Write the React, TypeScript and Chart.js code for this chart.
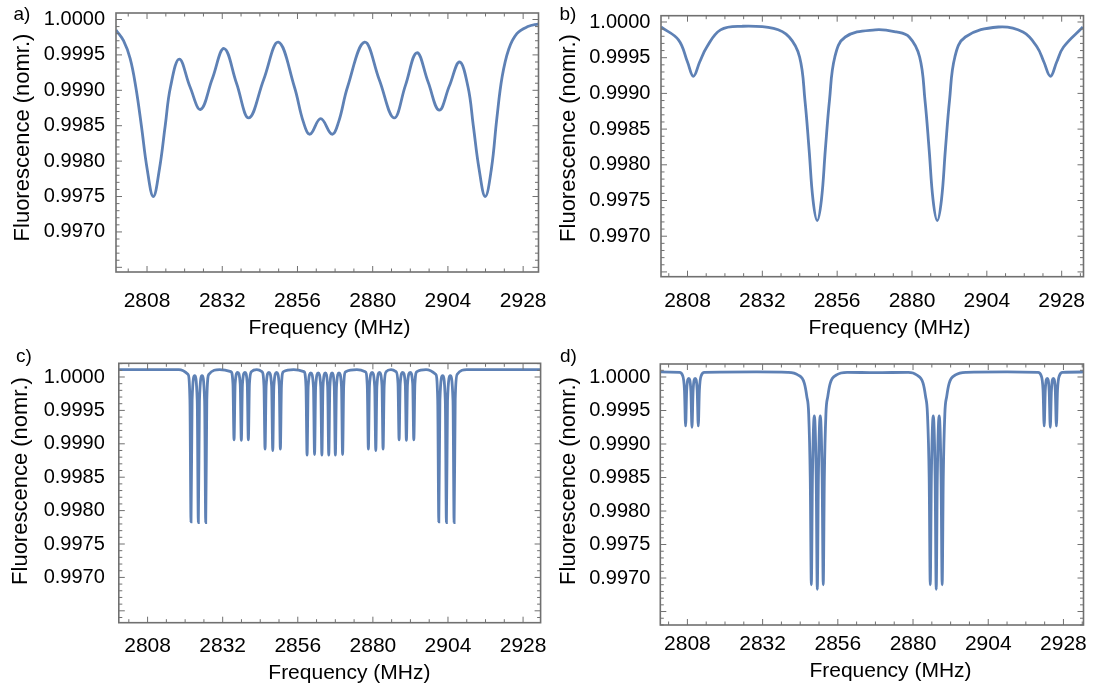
import React, { useEffect, useRef } from "react";
import { Chart, registerables } from "chart.js";

Chart.register(...registerables);

const FONT = '"Liberation Sans", Arial, Helvetica, sans-serif';
const LINE_COLOR = "#5e81b5";
const FRAME_COLOR = "#707070";

const X_TICKS = [2808, 2832, 2856, 2880, 2904, 2928];
const Y_TICKS = [1.0, 0.9995, 0.999, 0.9985, 0.998, 0.9975, 0.997];
const X_TITLE = "Frequency (MHz)";
const Y_TITLE = "Fluorescence (nomr.)";

// Panel a) – broad, overlapping resonances
const FREQ_A = [2798.1, 2800.5, 2802.6, 2804.4, 2806.2, 2808.0, 2810.0, 2812.0, 2813.8, 2815.5, 2818.3, 2821.7, 2825.1, 2828.8, 2832.6, 2836.55, 2840.5, 2845.2, 2849.9, 2855.0, 2857.9, 2860.0, 2863.4, 2867.0, 2869.1, 2872.0, 2877.4, 2882.1, 2886.8, 2890.45, 2894.1, 2897.65, 2901.2, 2904.45, 2907.7, 2910.4, 2912.1, 2913.9, 2915.9, 2917.9, 2919.6, 2921.3, 2923.4, 2926.0, 2929.5, 2933.0];
const FLUOR_A = [0.99985, 0.9997, 0.99945, 0.99905, 0.9985, 0.9979, 0.9975, 0.9979, 0.9985, 0.99905, 0.99944, 0.99905, 0.99873, 0.99916, 0.99959, 0.9991, 0.99861, 0.99915, 0.99968, 0.99905, 0.99855, 0.99838, 0.9986, 0.99838, 0.99855, 0.99905, 0.99968, 0.99915, 0.99861, 0.99907, 0.99953, 0.99912, 0.99872, 0.99906, 0.9994, 0.99905, 0.9985, 0.9979, 0.9975, 0.9979, 0.9986, 0.99919, 0.99958, 0.9998, 0.9999, 0.99994];

// Panel b) – four broad dips
const FREQ_B = [2799.5, 2805.1, 2808.0, 2809.9, 2811.9, 2814.2, 2818.6, 2825.4, 2835.6, 2840.6, 2843.95, 2845.65, 2847.0, 2848.25, 2849.6, 2850.95, 2852.2, 2853.55, 2855.25, 2858.6, 2868.2, 2875.0, 2879.1, 2882.45, 2884.15, 2885.5, 2886.75, 2888.1, 2889.45, 2890.7, 2892.05, 2893.75, 2897.1, 2907.7, 2915.6, 2920.1, 2922.3, 2924.4, 2926.4, 2928.6, 2934.8];
const FLUOR_B = [0.99993, 0.99975, 0.99944, 0.99924, 0.99944, 0.99965, 0.99989, 0.99994, 0.99991, 0.99979, 0.99951, 0.99891, 0.99821, 0.99751, 0.99722, 0.99751, 0.99821, 0.99891, 0.99951, 0.99979, 0.99989, 0.99986, 0.99979, 0.99951, 0.99891, 0.99821, 0.99751, 0.99722, 0.99751, 0.99821, 0.99891, 0.99951, 0.99979, 0.99993, 0.99986, 0.99965, 0.99944, 0.99924, 0.99944, 0.99965, 0.99993];

// Panel c) – narrow resolved lines
const FREQ_C = [
  2798.8, 2818.0, 2820.9, 2821.53, 2821.88, 2822.23, 2823.05, 2823.87, 2824.22, 2824.57, 2825.4, 2826.23, 2826.58, 2826.93, 2827.58, 2831.0,
  2834.63, 2835.28, 2835.63, 2835.98, 2836.8, 2837.61, 2837.96, 2838.31, 2839.08, 2839.85, 2840.2, 2840.55, 2841.2, 2842.9,
  2844.54, 2845.19, 2845.54, 2845.89, 2846.77, 2847.65, 2848.0, 2848.35, 2849.22, 2850.08, 2850.43, 2850.78, 2851.43, 2854.7,
  2857.97, 2858.62, 2858.97, 2859.32, 2860.17, 2861.01, 2861.36, 2861.71, 2862.53, 2863.35, 2863.7, 2864.05, 2864.8, 2865.55, 2865.9, 2866.25, 2866.96, 2867.66, 2868.01, 2868.36, 2869.17, 2869.97, 2870.32, 2870.67, 2871.32, 2874.9,
  2877.56, 2878.21, 2878.56, 2878.91, 2879.75, 2880.58, 2880.93, 2881.28, 2882.1, 2882.91, 2883.26, 2883.61, 2884.26, 2885.8,
  2887.38, 2888.03, 2888.38, 2888.73, 2889.55, 2890.36, 2890.71, 2891.06, 2891.9, 2892.73, 2893.08, 2893.43, 2894.08, 2897.0,
  2900.07, 2900.72, 2901.07, 2901.42, 2902.29, 2903.15, 2903.5, 2903.85, 2904.73, 2905.61, 2905.96, 2906.31, 2906.96, 2910.0, 2933.6,
];
const FLUOR_C = [
  1.00011, 1.00011, 1.00004, 0.99966, 0.99783, 0.99966, 1.00002, 0.99964, 0.99782, 0.99964, 1.00002, 0.99964, 0.99782, 0.99966, 1.00004, 1.00011,
  1.00008, 0.9999, 0.99906, 0.9999, 1.00007, 0.99989, 0.99905, 0.99989, 1.00007, 0.9999, 0.99906, 0.9999, 1.00008, 1.00011,
  1.00008, 0.99987, 0.99892, 0.99987, 1.00007, 0.99986, 0.9989, 0.99986, 1.00007, 0.99987, 0.99892, 0.99987, 1.00008, 1.00011,
  1.00008, 0.99986, 0.99883, 0.99986, 1.00006, 0.99985, 0.99884, 0.99985, 1.00006, 0.99985, 0.99883, 0.99985, 1.00006, 0.99985, 0.99883, 0.99985, 1.00006, 0.99985, 0.99883, 0.99985, 1.00006, 0.99986, 0.99884, 0.99986, 1.00008, 1.00011,
  1.00008, 0.99987, 0.99892, 0.99987, 1.00007, 0.99986, 0.9989, 0.99986, 1.00007, 0.99987, 0.99892, 0.99987, 1.00008, 1.00011,
  1.00008, 0.9999, 0.99906, 0.9999, 1.00007, 0.99989, 0.99905, 0.99989, 1.00007, 0.9999, 0.99906, 0.9999, 1.00008, 1.00011,
  1.00004, 0.99966, 0.99783, 0.99966, 1.00002, 0.99964, 0.99782, 0.99964, 1.00002, 0.99964, 0.99782, 0.99966, 1.00004, 1.00011, 1.00011,
];

// Panel d) – narrow resolved lines on four groups
const FREQ_D = [
  2799.35, 2805.5, 2806.4, 2807.07, 2807.42, 2807.77, 2808.44, 2809.11, 2809.46, 2809.81, 2810.47, 2811.12, 2811.47, 2811.82, 2812.5, 2813.4, 2830.0,
  2840.0, 2843.3, 2845.3, 2846.1, 2846.7, 2847.2, 2847.55, 2847.9, 2848.5, 2849.1, 2849.45, 2849.8, 2850.4, 2851.0, 2851.35, 2851.7, 2852.2, 2852.8, 2853.6, 2855.6, 2859.0, 2868.0,
  2878.5, 2881.2, 2883.2, 2884.0, 2884.6, 2885.15, 2885.5, 2885.85, 2886.45, 2887.05, 2887.4, 2887.75, 2888.35, 2888.95, 2889.3, 2889.65, 2890.15, 2890.75, 2891.55, 2893.55, 2897.0, 2910.0,
  2919.9, 2920.8, 2921.5, 2921.85, 2922.2, 2922.83, 2923.45, 2923.8, 2924.15, 2924.78, 2925.4, 2925.75, 2926.1, 2926.8, 2927.7, 2934.4,
];
const FLUOR_D = [
  1.000075, 1.00007, 1.00003, 0.9998, 0.99927, 0.9998, 0.99998, 0.99979, 0.99925, 0.99979, 0.99998, 0.9998, 0.99927, 0.9998, 1.00003, 1.00007, 1.000075,
  1.00007, 1.00003, 0.99991, 0.99971, 0.99945, 0.9985, 0.9969, 0.9985, 0.99942, 0.9985, 0.99683, 0.9985, 0.99942, 0.9985, 0.9969, 0.9985, 0.99945, 0.99971, 0.99991, 1.00003, 1.00007, 1.000065,
  1.00007, 1.00003, 0.99991, 0.99971, 0.99945, 0.9985, 0.9969, 0.9985, 0.99942, 0.9985, 0.99683, 0.9985, 0.99942, 0.9985, 0.9969, 0.9985, 0.99945, 0.99971, 0.99991, 1.00003, 1.00007, 1.000075,
  1.00007, 1.00003, 0.9998, 0.99927, 0.9998, 0.99998, 0.99979, 0.99925, 0.99979, 0.99998, 0.9998, 0.99927, 0.9998, 1.00003, 1.00007, 1.000075,
];

type PanelSpec = {
  key: string;
  letter: string;
  left: number;
  top: number;
  w: number;
  h: number;
  padTop: number;
  padRight: number;
  yAxisW: number;
  xAxisH: number;
  xMin: number;
  xMax: number;
  yMin: number;
  yMax: number;
  xTickPad: number;
  yTickPad: number;
  smooth: boolean;
  letterPos: [number, number];
  yTitlePos: [number, number];
  xTitlePos: [number, number];
  freq: number[];
  fluor: number[];
};

const PANELS: PanelSpec[] = [
  {
    key: "a", letter: "a)", left: 0, top: 0, w: 547, h: 340,
    padTop: 13, padRight: 8.5, yAxisW: 116, xAxisH: 68,
    xMin: 2798.1, xMax: 2932.9, yMin: 0.996434, yMax: 1.0000918,
    xTickPad: 17, yTickPad: 11, smooth: true,
    letterPos: [22, 15], yTitlePos: [22.8, 137.5], xTitlePos: [329.5, 328.3],
    freq: FREQ_A, fluor: FLUOR_A,
  },
  {
    key: "b", letter: "b)", left: 547, top: 0, w: 547, h: 340,
    padTop: 15.7, padRight: 10.5, yAxisW: 114, xAxisH: 63.3,
    xMin: 2799.5, xMax: 2935.0, yMin: 0.996433, yMax: 1.0000882,
    xTickPad: 12.4, yTickPad: 10.6, smooth: true,
    letterPos: [21, 15], yTitlePos: [21.7, 138], xTitlePos: [342.5, 328],
    freq: FREQ_B, fluor: FLUOR_B,
  },
  {
    key: "c", letter: "c)", left: 0, top: 340, w: 547, h: 347,
    padTop: 23.3, padRight: 6.4, yAxisW: 118.8, xAxisH: 64.3,
    xMin: 2798.8, xMax: 2933.6, yMin: 0.996322, yMax: 1.000205,
    xTickPad: 11.4, yTickPad: 14, smooth: false,
    letterPos: [24, 17], yTitlePos: [21, 141], xTitlePos: [349.4, 333],
    freq: FREQ_C, fluor: FLUOR_C,
  },
  {
    key: "d", letter: "d)", left: 547, top: 340, w: 547, h: 347,
    padTop: 24, padRight: 10.5, yAxisW: 113.3, xAxisH: 62,
    xMin: 2799.35, xMax: 2934.4, yMin: 0.996299, yMax: 1.000194,
    xTickPad: 6.4, yTickPad: 10, smooth: false,
    letterPos: [21.5, 17], yTitlePos: [21.6, 141], xTitlePos: [343.5, 331.7],
    freq: FREQ_D, fluor: FLUOR_D,
  },
];

const frameDecor = {
  id: "frameDecor",
  afterDraw(chart: any, _args: any, opts: any) {
    const { ctx, chartArea: a, scales } = chart;
    const xs = scales.x;
    const ys = scales.y;
    ctx.save();
    // frame
    ctx.strokeStyle = FRAME_COLOR;
    ctx.lineWidth = 1.6;
    ctx.strokeRect(a.left, a.top, a.right - a.left, a.bottom - a.top);
    // inward frame ticks
    ctx.lineWidth = 1;
    ctx.beginPath();
    for (let v = X_TICKS[0] - 24; v <= xs.max; v += 6) {
      if (v < xs.min) continue;
      const px = xs.getPixelForValue(v);
      const len = (v - X_TICKS[0]) % 24 === 0 ? 6 : 3.5;
      ctx.moveTo(px, a.bottom);
      ctx.lineTo(px, a.bottom - len);
      ctx.moveTo(px, a.top);
      ctx.lineTo(px, a.top + len);
    }
    for (let k = -5; k <= 45; k++) {
      const v = 1.0 - k * 0.0001;
      if (v < ys.min || v > ys.max) continue;
      const py = ys.getPixelForValue(v);
      const len = k % 5 === 0 ? 6 : 3.5;
      ctx.moveTo(a.left, py);
      ctx.lineTo(a.left + len, py);
      ctx.moveTo(a.right, py);
      ctx.lineTo(a.right - len, py);
    }
    ctx.stroke();

    // texts
    ctx.fillStyle = "#000";
    ctx.textAlign = "center";
    ctx.textBaseline = "middle";
    ctx.font = `19px ${FONT}`;
    ctx.fillText(opts.letter, opts.letterPos[0], opts.letterPos[1]);
    ctx.font = `21px ${FONT}`;
    ctx.fillText(X_TITLE, opts.xTitlePos[0], opts.xTitlePos[1]);
    ctx.translate(opts.yTitlePos[0], opts.yTitlePos[1]);
    ctx.rotate(-Math.PI / 2);
    ctx.font = `22px ${FONT}`;
    ctx.fillText(Y_TITLE, 0, 0);
    ctx.restore();
  },
};

function Panel({ spec }: { spec: PanelSpec }) {
  const ref = useRef<HTMLCanvasElement>(null);
  useEffect(() => {
    const canvas = ref.current;
    if (!canvas) return;
    const points = spec.freq.map((f, i) => ({ x: f, y: spec.fluor[i] }));
    const lineStyle = spec.smooth
      ? { cubicInterpolationMode: "default", tension: 0.4 }
      : { cubicInterpolationMode: "monotone" };
    const chart = new Chart(canvas, {
      type: "line",
      data: {
        datasets: [
          {
            data: points,
            borderColor: LINE_COLOR,
            borderWidth: 2.8,
            pointRadius: 0,
            fill: false,
            ...lineStyle,
          },
        ],
      },
      options: {
        animation: false,
        responsive: false,
        devicePixelRatio: 1,
        layout: { padding: { left: 0, top: spec.padTop, right: spec.padRight, bottom: 0 } },
        plugins: {
          legend: { display: false },
          tooltip: { enabled: false },
          frameDecor: {
            letter: spec.letter,
            letterPos: spec.letterPos,
            yTitlePos: spec.yTitlePos,
            xTitlePos: spec.xTitlePos,
          },
        } as any,
        scales: {
          x: {
            type: "linear",
            min: spec.xMin,
            max: spec.xMax,
            afterBuildTicks: (s: any) => {
              s.ticks = X_TICKS.map((v) => ({ value: v }));
            },
            afterFit: (s: any) => {
              s.height = spec.xAxisH;
              s.paddingLeft = 0;
              s.paddingRight = 0;
            },
            ticks: {
              font: { family: FONT, size: 21 },
              color: "#000",
              padding: spec.xTickPad,
              maxRotation: 0,
              autoSkip: false,
              callback: (v: any) => String(v),
            },
            grid: { display: false, drawTicks: false },
            border: { display: false },
          },
          y: {
            type: "linear",
            min: spec.yMin,
            max: spec.yMax,
            afterBuildTicks: (s: any) => {
              s.ticks = Y_TICKS.map((v) => ({ value: v }));
            },
            afterFit: (s: any) => {
              s.width = spec.yAxisW;
              s.paddingTop = 0;
              s.paddingBottom = 0;
            },
            ticks: {
              font: { family: FONT, size: 20 },
              color: "#000",
              padding: spec.yTickPad,
              autoSkip: false,
              callback: (v: any) => Number(v).toFixed(4),
            },
            grid: { display: false, drawTicks: false },
            border: { display: false },
          },
        },
      },
      plugins: [frameDecor],
    } as any);
    return () => chart.destroy();
  }, [spec]);
  return (
    <canvas
      ref={ref}
      width={spec.w}
      height={spec.h}
      style={{ position: "absolute", left: spec.left, top: spec.top, width: spec.w, height: spec.h }}
    />
  );
}

export default function App() {
  return (
    <div style={{ position: "absolute", left: 0, top: 0, width: 1094, height: 687, background: "#fff", overflow: "hidden" }}>
      {PANELS.map((p) => (
        <Panel key={p.key} spec={p} />
      ))}
    </div>
  );
}
